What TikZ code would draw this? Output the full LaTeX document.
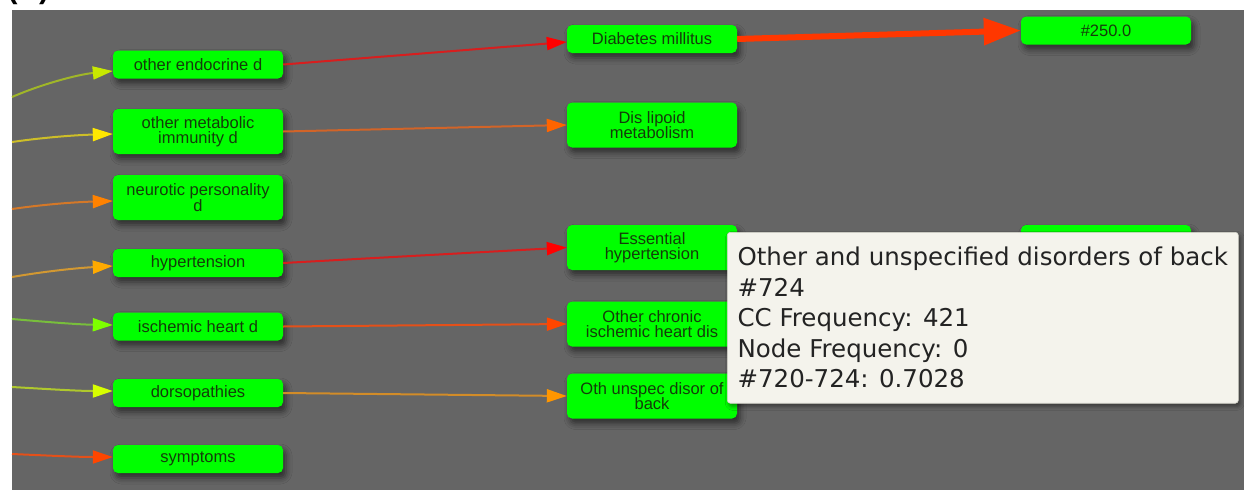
\documentclass[tikz,border=0pt]{standalone}
\usepackage{fontspec}
\setmainfont{Liberation Sans}
\newfontfamily\tipfont{DejaVu Sans}
\usetikzlibrary{arrows.meta, shadows.blur}
\definecolor{panel}{RGB}{101,101,101}
\definecolor{boxgreen}{RGB}{0,255,0}
\definecolor{boxtext}{RGB}{20,60,10}
\definecolor{tipfill}{RGB}{244,243,236}
\definecolor{tipline}{RGB}{210,210,200}
\definecolor{tiptext}{RGB}{35,35,35}
% link colours: line, then head
\definecolor{ygLine}{RGB}{160,182,40}  \definecolor{ygHead}{RGB}{200,232,0}
\definecolor{yeLine}{RGB}{205,190,40}  \definecolor{yeHead}{RGB}{255,232,0}
\definecolor{orLine}{RGB}{212,120,40}  \definecolor{orHead}{RGB}{255,130,0}
\definecolor{amLine}{RGB}{210,152,50}  \definecolor{amHead}{RGB}{255,170,0}
\definecolor{grLine}{RGB}{120,190,60}  \definecolor{grHead}{RGB}{125,255,0}
\definecolor{lmLine}{RGB}{175,200,45}  \definecolor{lmHead}{RGB}{215,255,0}
\definecolor{roLine}{RGB}{228,80,25}   \definecolor{roHead}{RGB}{255,70,0}
\definecolor{rdLine}{RGB}{215,30,30}   \definecolor{rdHead}{RGB}{255,0,0}
\definecolor{ocLine}{RGB}{210,100,40}  \definecolor{ocHead}{RGB}{255,100,0}
\definecolor{gdLine}{RGB}{210,140,40}  \definecolor{gdHead}{RGB}{255,150,0}
\definecolor{hot}{RGB}{255,55,0}

\begin{document}
\begin{tikzpicture}[x=1pt, y=-1pt,
    box/.style={fill=boxgreen, text=boxtext, rounded corners=5pt,
      minimum width=170pt, minimum height=28pt, inner sep=0pt, align=center,
      font=\fontsize{16.5}{15.5}\selectfont,
      blur shadow={shadow xshift=3pt, shadow yshift=-5pt,
        shadow blur radius=6pt, shadow opacity=55}},
    tallbox/.style={box, minimum height=45pt},
    link/.style={line width=2pt},
    arrowhead/.style={-{Triangle[length=20pt, width=13pt, color=#1]}}]
        \useasboundingbox (0,0) rectangle (1244,490);
        % Page and panel
        \fill[white] (0,0) rectangle (1244,490);
        \fill[panel] (12,10) rectangle (1244,490);
        \node[font=\bfseries\fontsize{30}{30}\selectfont, anchor=base west]
          (tag) at (4,-2) {(C)};
        % Left column
        \node[box] (endo) at (198,64.5) {other endocrine d};
        \node[tallbox] (metab) at (198,131.5) {other metabolic\\immunity d};
        \node[tallbox] (neuro) at (198,197.5) {neurotic personality\\d};
        \node[box] (hyper) at (198,263) {hypertension};
        \node[box] (ische) at (198,326.5) {ischemic heart d};
        \node[box] (dorso) at (198,393) {dorsopathies};
        \node[box] (sympt) at (198,459) {symptoms};
        % Middle column
        \node[box] (diab) at (652,39) {Diabetes millitus};
        \node[tallbox] (lipoid) at (652,125) {Dis lipoid\\metabolism};
        \node[tallbox] (essen) at (652,247.5) {Essential\\hypertension};
        \node[tallbox] (chron) at (652,324) {Other chronic\\ischemic heart dis};
        \node[tallbox] (back) at (652,396) {Oth unspec disor of\\back};
        % Right column
        \node[box] (code250) at (1106,30.5) {\#250.0};
        \node[box] (hidden) at (1106,239) {};
        % Links coming in from the left edge
        \coordinate (in1) at (12,97);
        \coordinate (in2) at (12,142);
        \coordinate (in3) at (12,209);
        \coordinate (in4) at (12,277);
        \coordinate (in5) at (12,319);
        \coordinate (in6) at (12,387);
        \coordinate (in7) at (12,454);
        \draw[link, ygLine, arrowhead=ygHead]
          (in1) .. controls +(30,-13) and +(-35,3.5) .. ([yshift=-6.5pt]endo.west);
        \draw[link, yeLine, arrowhead=yeHead]
          (in2) .. controls +(35,-5) and +(-35,1) .. ([yshift=-2.5pt]metab.west);
        \draw[link, orLine, arrowhead=orHead]
          (in3) .. controls +(35,-5) and +(-35,1) .. ([yshift=-3.5pt]neuro.west);
        \draw[link, amLine, arrowhead=amHead]
          (in4) .. controls +(35,-6) and +(-35,2) .. ([yshift=-3pt]hyper.west);
        \draw[link, grLine, arrowhead=grHead]
          (in5) .. controls +(35,3) and +(-35,-0.5) .. ([yshift=1.5pt]ische.west);
        \draw[link, lmLine, arrowhead=lmHead]
          (in6) .. controls +(35,2) and +(-35,0) .. ([yshift=2pt]dorso.west);
        \draw[link, roLine, arrowhead=roHead]
          (in7) .. controls +(35,1.5) and +(-35,0) .. ([yshift=2pt]sympt.west);
        % Left to middle
        \draw[link, rdLine, arrowhead=rdHead] (endo.east) -- ([yshift=-3pt]diab.west);
        \draw[link, ocLine, arrowhead=ocHead] (metab.east) -- (lipoid.west);
        \draw[link, rdLine, arrowhead=rdHead] (hyper.east) -- (essen.west);
        \draw[link, roLine, arrowhead=roHead] (ische.east) -- (chron.west);
        \draw[link, gdLine, arrowhead=gdHead] (dorso.east) -- (back.west);
        % Middle to right (strong link)
        \draw[hot, line width=6pt, -{Triangle[length=37pt, width=26pt]}]
          (diab.east) -- (code250.west);
        % Tooltip
        \node[fill=tipfill, draw=tipline, line width=0.6pt, rounded corners=3pt,
          text=tiptext, anchor=north west, align=left,
          inner xsep=10pt, inner ysep=15pt, minimum width=511pt,
          font=\tipfont\fontsize{24.5}{30.5}\selectfont,
          blur shadow={shadow xshift=2pt, shadow yshift=-3pt,
            shadow blur radius=4pt, shadow opacity=45}]
          (tooltip) at (727,232)
          {Other and unspecified disorders of back\\
           \#724\\
           CC Frequency: 421\\
           Node Frequency: 0\\
           \#720-724: 0.7028};
      \end{tikzpicture}
\end{document}
